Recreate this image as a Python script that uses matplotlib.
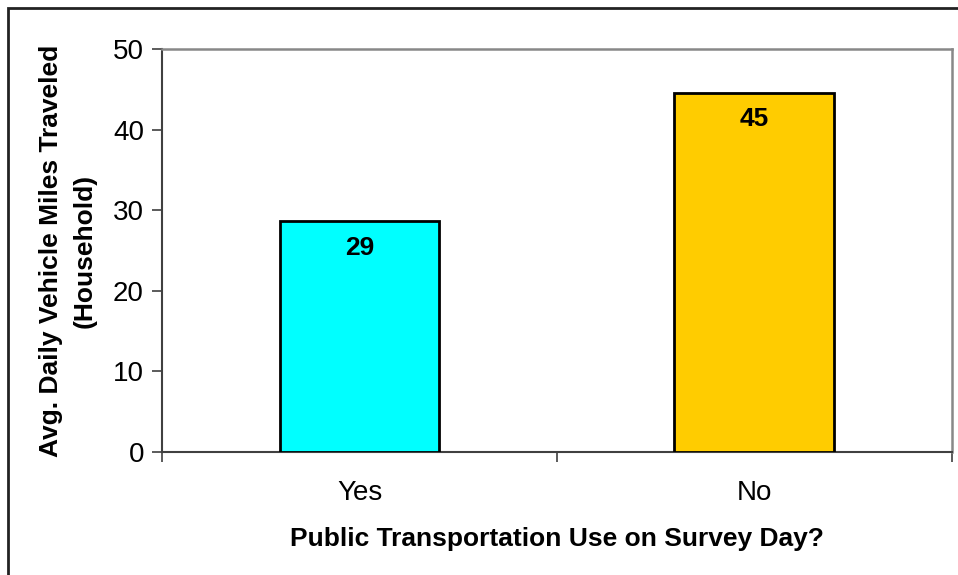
import matplotlib
matplotlib.use('Agg')
import matplotlib.pyplot as plt
from matplotlib.patches import Rectangle

plt.rcParams['font.family'] = ['Liberation Sans', 'DejaVu Sans']

categories = ['Yes', 'No']
miles = [28.6, 44.6]
bar_colors = ['#00FFFF', '#FFCC00']

fig = plt.figure(figsize=(9.58, 5.75), dpi=100)
ax = fig.add_axes([0.1691, 0.2139, 0.8246, 0.7009])

pos = list(range(len(categories)))
ax.bar(pos, miles, width=0.405, color=bar_colors, edgecolor='black', linewidth=2.0, zorder=3)
for x, v in zip(pos, miles):
    ax.text(x, v - 1.8, '%d' % round(v), ha='center', va='top', fontsize=19, fontweight='bold', zorder=4)

ax.set_xlim(-0.5, 1.5)
ax.set_ylim(0, 50)
ax.set_yticks(range(0, 51, 10))

# boundaries get the tick marks, categories get the labels
ax.set_xticks([-0.5, 0.5, 1.5])
ax.set_xticklabels([])
ax.set_xticks(pos, minor=True)
ax.set_xticklabels(categories, minor=True)
ax.tick_params(axis='x', which='major', direction='out', length=7, width=1.2, color='#404040')
ax.tick_params(axis='x', which='minor', length=0, pad=20, labelsize=20)
ax.tick_params(axis='y', direction='out', length=7, width=1.2, color='#404040', pad=6, labelsize=20)

for s in ['left', 'bottom']:
    ax.spines[s].set_color('#404040')
    ax.spines[s].set_linewidth(1.5)
for s in ['top', 'right']:
    ax.spines[s].set_color('#888888')
    ax.spines[s].set_linewidth(1.8)

ax.set_xlabel('Public Transportation Use on Survey Day?', fontsize=19, fontweight='bold', labelpad=15)
ax.set_ylabel('Avg. Daily Vehicle Miles Traveled\n(Household)', fontsize=19, fontweight='bold',
              labelpad=12, linespacing=1.5)

# outer chart frame
fig.patches.append(Rectangle((8 / 958, -0.05), 1.2, 1 - 8 / 575 + 0.05, transform=fig.transFigure,
                             fill=False, edgecolor='#222222', linewidth=2.0))

fig.savefig('out.png', dpi=100)
